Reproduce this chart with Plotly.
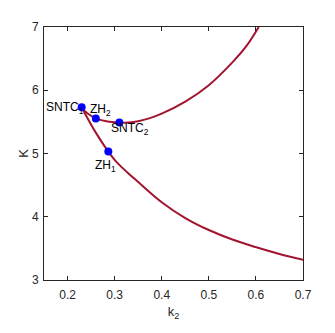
import plotly.graph_objects as go

# Upper branch (SNTC1 -> ZH2 -> SNTC2 -> up)
upper_k2 = [0.232, 0.245, 0.26, 0.285, 0.31, 0.33, 0.35, 0.375, 0.40, 0.45, 0.50, 0.55, 0.58, 0.606]
upper_K  = [5.70, 5.62, 5.555, 5.505, 5.49, 5.49, 5.51, 5.56, 5.63, 5.82, 6.08, 6.44, 6.70, 7.00]

# Lower branch (SNTC1 -> ZH1 -> down)
lower_k2 = [0.232, 0.26, 0.2866, 0.30, 0.31, 0.33, 0.35, 0.40, 0.45, 0.50, 0.55, 0.60, 0.65, 0.70]
lower_K  = [5.70, 5.33, 5.03, 4.90, 4.82, 4.68, 4.55, 4.23, 3.98, 3.79, 3.64, 3.52, 3.41, 3.32]

# Special points
pt_names = ["SNTC<sub>1</sub>", "ZH<sub>2</sub>", "SNTC<sub>2</sub>", "ZH<sub>1</sub>"]
pt_k2 = [0.23, 0.26, 0.31, 0.2866]
pt_K  = [5.73, 5.555, 5.49, 5.03]

x_ticks = [0.2, 0.3, 0.4, 0.5, 0.6, 0.7]
y_ticks = [3, 4, 5, 6, 7]

curve_color = "#A2142F"
font_family = "Liberation Sans, Arial, sans-serif"

fig = go.Figure()
fig.add_trace(go.Scatter(x=upper_k2, y=upper_K, mode="lines",
                         line=dict(color=curve_color, width=2, shape="spline", smoothing=1.0),
                         showlegend=False))
fig.add_trace(go.Scatter(x=lower_k2, y=lower_K, mode="lines",
                         line=dict(color=curve_color, width=2, shape="spline", smoothing=1.0),
                         showlegend=False))
fig.add_trace(go.Scatter(x=pt_k2, y=pt_K, mode="markers",
                         marker=dict(color="#0000FF", size=8),
                         showlegend=False))

# label placements: (xanchor, yanchor, xshift, yshift)
placements = [("right", "middle", 4, -1),
              ("left", "bottom", -8, -2),
              ("left", "top", -10, 4),
              ("left", "top", -15, -4)]
for name, xv, yv, (xa, ya, xs, ys) in zip(pt_names, pt_k2, pt_K, placements):
    fig.add_annotation(x=xv, y=yv, text=name, showarrow=False,
                       xanchor=xa, yanchor=ya, xshift=xs, yshift=ys,
                       font=dict(family=font_family, size=12, color="#000000"))

axis_common = dict(showgrid=False, zeroline=False, showline=True, mirror="ticks",
                   linecolor="#262626", linewidth=1, ticks="inside", ticklen=4,
                   tickcolor="#262626",
                   tickfont=dict(family=font_family, size=12, color="#262626"))

fig.update_layout(
    width=335, height=333,
    margin=dict(l=36, r=40, t=17, b=61),
    paper_bgcolor="white", plot_bgcolor="white",
    xaxis=dict(range=[0.15, 0.7], tickvals=x_ticks, ticktext=[str(v) for v in x_ticks],
               ticklabelstandoff=4,
               title=dict(text="k<sub>2</sub>", font=dict(family=font_family, size=13, color="#262626"), standoff=5),
               **axis_common),
    yaxis=dict(range=[3, 7], tickvals=y_ticks, ticklabelstandoff=2,
               title=dict(text="K", font=dict(family=font_family, size=13, color="#262626"), standoff=0),
               **axis_common),
)

fig.write_html("out.html")
